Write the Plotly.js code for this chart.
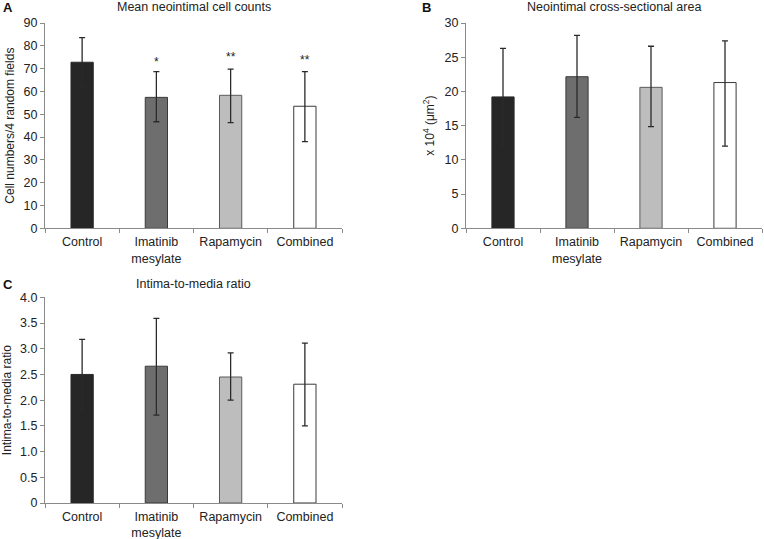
<!DOCTYPE html>
<html>
<head>
<meta charset="utf-8">
<script src="https://cdn.plot.ly/plotly-3.0.1.min.js"></script>
<style>html,body{margin:0;padding:0;background:#fff;}#chart{width:764px;height:539px;}</style>
</head>
<body>
<div id="chart"></div>
<script>
// ---- data ----
const categories = ["Control", "Imatinib<br>mesylate", "Rapamycin", "Combined"];
const barColors = ["#262626", "#6e6e6e", "#bdbdbd", "#ffffff"];
const barEdges = ["#2a2a2a", "#3a3a3a", "#5a5a5a", "#3a3a3a"];

// Panel A: Mean neointimal cell counts
const cellCounts = [72.8, 57.4, 58.3, 53.5];
const cellErrPlus = [10.8, 11.3, 11.5, 15.2];
const cellErrMinus = [10.8, 10.7, 12.0, 15.5];
const cellSig = ["", "*", "**", "**"];

// Panel B: Neointimal cross-sectional area (x10^4 um^2)
const areaVals = [19.2, 22.15, 20.6, 21.3];
const areaErrPlus = [7.1, 6.05, 6.0, 6.1];
const areaErrMinus = [7.1, 5.95, 5.75, 9.3];

// Panel C: Intima-to-media ratio
const ratioVals = [2.50, 2.66, 2.45, 2.31];
const ratioErrPlus = [0.68, 0.93, 0.47, 0.80];
const ratioErrMinus = [0.68, 0.95, 0.45, 0.81];

const yTicksA = [0,10,20,30,40,50,60,70,80,90];
const yTicksB = [0,5,10,15,20,25,30];
const yTicksC = [0,0.5,1,1.5,2,2.5,3,3.5,4];
const yTickTextC = ["0","0.5","1.0","1.5","2.0","2.5","3.0","3.5","4.0"];

// ---- styling ----
const FONT = "Liberation Sans, Arial, sans-serif";
const AXC = "#8a8a8a";

function barTrace(vals, plus, minus, xa, ya) {
  return {
    type: "bar", x: categories, y: vals, width: 0.3,
    xaxis: xa, yaxis: ya,
    marker: { color: barColors, line: { color: barEdges, width: 1 } },
    error_y: { type: "data", symmetric: false, array: plus, arrayminus: minus,
               color: "#2a2a2a", thickness: 1.3, width: 3 },
    hoverinfo: "none", showlegend: false
  };
}

function xAxis(domain, anchor) {
  return {
    domain: domain, anchor: anchor, type: "category", range: [-0.5, 3.5],
    tickson: "boundaries", ticks: "outside", ticklen: 4, tickcolor: AXC,
    ticklabelstandoff: 2,
    showline: true, linecolor: AXC, linewidth: 1, showgrid: false, zeroline: false,
    tickfont: { family: FONT, size: 12.5, color: "#222" }, fixedrange: true
  };
}
function yAxis(domain, anchor, range, tickvals, ticktext, title, standoff) {
  return {
    domain: domain, anchor: anchor, range: range, tickvals: tickvals, ticktext: ticktext,
    ticks: "outside", ticklen: 4, tickcolor: AXC,
    showline: true, linecolor: AXC, linewidth: 1, showgrid: false, zeroline: false,
    tickfont: { family: FONT, size: 12.5, color: "#222" },
    title: { text: title, font: { family: FONT, size: 12, color: "#222" }, standoff: standoff },
    fixedrange: true
  };
}

const xdA = [45/764, 342/764];
const xdB = [466/764, 762/764];
const ydTop = [1 - 228.3/539, 1 - 23/539];
const ydBot = [1 - 503/539, 1 - 297.3/539];

const traces = [
  barTrace(cellCounts, cellErrPlus, cellErrMinus, "x", "y"),
  barTrace(areaVals, areaErrPlus, areaErrMinus, "x2", "y2"),
  barTrace(ratioVals, ratioErrPlus, ratioErrMinus, "x3", "y3")
];

const annotations = [];
// significance stars
cellSig.forEach((s, i) => {
  if (!s) return;
  annotations.push({
    xref: "x", yref: "y", x: categories[i], y: cellCounts[i] + cellErrPlus[i],
    text: s, showarrow: false, yanchor: "bottom", yshift: s.length > 1 ? 3 : 1,
    font: { family: FONT, size: 12, color: "#222" }
  });
});
// panel titles
const titleFont = { family: FONT, size: 12.5, color: "#222" };
annotations.push({ xref: "paper", yref: "paper", x: (xdA[0]+xdA[1])/2, y: 1 - 7/539, text: "Mean neointimal cell counts",
  showarrow: false, xanchor: "center", yanchor: "middle", font: titleFont });
annotations.push({ xref: "paper", yref: "paper", x: (xdB[0]+xdB[1])/2, y: 1 - 7/539, text: "Neointimal cross-sectional area",
  showarrow: false, xanchor: "center", yanchor: "middle", font: titleFont });
annotations.push({ xref: "paper", yref: "paper", x: (xdA[0]+xdA[1])/2, y: 1 - 284/539, text: "Intima-to-media ratio",
  showarrow: false, xanchor: "center", yanchor: "middle", font: titleFont });
// panel letters
const letterFont = { family: FONT, size: 13, color: "#111", weight: "bold" };
annotations.push({ xref: "paper", yref: "paper", x: 1/764, y: 1 - 7/539, text: "<b>A</b>", showarrow: false, xanchor: "left", yanchor: "middle", font: letterFont });
annotations.push({ xref: "paper", yref: "paper", x: 420/764, y: 1 - 7/539, text: "<b>B</b>", showarrow: false, xanchor: "left", yanchor: "middle", font: letterFont });
annotations.push({ xref: "paper", yref: "paper", x: 1/764, y: 1 - 284/539, text: "<b>C</b>", showarrow: false, xanchor: "left", yanchor: "middle", font: letterFont });

const layout = {
  width: 764, height: 539,
  margin: { l: 0, r: 0, t: 0, b: 0 },
  paper_bgcolor: "#fff", plot_bgcolor: "#fff",
  bargap: 0.7,
  xaxis: xAxis(xdA, "y"),
  yaxis: yAxis(ydTop, "x", [0, 90], yTicksA, yTicksA.map(String), "Cell numbers/4 random fields", 6),
  xaxis2: xAxis(xdB, "y2"),
  yaxis2: yAxis(ydTop, "x2", [0, 30], yTicksB, yTicksB.map(String), "x 10<sup>4</sup> (μm<sup>2</sup>)", 7),
  xaxis3: xAxis(xdA, "y3"),
  yaxis3: yAxis(ydBot, "x3", [0, 4], yTicksC, yTickTextC, "Intima-to-media ratio", 6),
  annotations: annotations
};

Plotly.newPlot("chart", traces, layout, { staticPlot: true, displayModeBar: false });
</script>
</body>
</html>
